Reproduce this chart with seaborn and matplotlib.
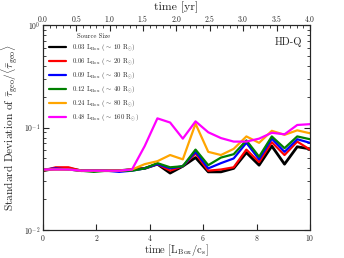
import numpy as np
import pandas as pd
import matplotlib
matplotlib.use("Agg")
import matplotlib.pyplot as plt
import seaborn as sns

# time axis in box sound-crossing units (22 snapshots)
time_box = np.linspace(0, 10, 22)

size_labels = [
    r"0.03 L$_{\rm Box}$ ($\sim$ 10 R$_{\odot}$)",
    r"0.06 L$_{\rm Box}$ ($\sim$ 20 R$_{\odot}$)",
    r"0.09 L$_{\rm Box}$ ($\sim$ 30 R$_{\odot}$)",
    r"0.12 L$_{\rm Box}$ ($\sim$ 40 R$_{\odot}$)",
    r"0.24 L$_{\rm Box}$ ($\sim$ 80 R$_{\odot}$)",
    r"0.48 L$_{\rm Box}$ ($\sim$ 160 R$_{\odot}$)",
]
colors = ["black", "red", "blue", "green", "orange", "magenta"]

sd_003 = [0.038, 0.040, 0.040, 0.038, 0.038, 0.038, 0.038, 0.039, 0.040, 0.044, 0.036,
          0.042, 0.051, 0.037, 0.037, 0.040, 0.057, 0.043, 0.066, 0.044, 0.065, 0.062]
sd_006 = [0.038, 0.041, 0.041, 0.038, 0.038, 0.038, 0.038, 0.039, 0.040, 0.044, 0.038,
          0.042, 0.056, 0.038, 0.039, 0.041, 0.061, 0.046, 0.072, 0.054, 0.073, 0.061]
sd_009 = [0.039, 0.040, 0.039, 0.038, 0.038, 0.038, 0.037, 0.038, 0.040, 0.044, 0.040,
          0.042, 0.058, 0.040, 0.045, 0.050, 0.071, 0.049, 0.078, 0.058, 0.077, 0.071]
sd_012 = [0.039, 0.039, 0.039, 0.038, 0.037, 0.038, 0.038, 0.038, 0.040, 0.045, 0.041,
          0.042, 0.061, 0.043, 0.051, 0.055, 0.075, 0.052, 0.082, 0.063, 0.082, 0.077]
sd_024 = [0.039, 0.039, 0.039, 0.038, 0.038, 0.038, 0.038, 0.039, 0.044, 0.047, 0.054,
          0.049, 0.109, 0.058, 0.054, 0.062, 0.082, 0.071, 0.093, 0.085, 0.094, 0.088]
sd_048 = [0.039, 0.039, 0.039, 0.038, 0.038, 0.038, 0.038, 0.039, 0.066, 0.123, 0.112,
          0.078, 0.115, 0.090, 0.079, 0.073, 0.073, 0.078, 0.089, 0.086, 0.106, 0.108]
series = [sd_003, sd_006, sd_009, sd_012, sd_024, sd_048]

df = pd.concat(
    [pd.DataFrame({"time": time_box, "sd": vals, "size": lab})
     for lab, vals in zip(size_labels, series)],
    ignore_index=True,
)

sns.set_style("ticks")
plt.rcParams["font.family"] = ["cmr10", "DejaVu Serif"]
plt.rcParams["mathtext.fontset"] = "cm"
plt.rcParams["axes.formatter.use_mathtext"] = True

fig = plt.figure(figsize=(3.44, 2.58), dpi=100)
ax = fig.add_axes([0.125, 0.108, 0.776, 0.795])

sns.lineplot(data=df, x="time", y="sd", hue="size", hue_order=size_labels,
             palette=dict(zip(size_labels, colors)), linewidth=1.6, ax=ax)
# black line drawn a bit heavier in the original
ax.lines[0].set_linewidth(2.0)

ax.set_yscale("log")
ax.set_xlim(0, 10)
ax.set_ylim(1e-2, 1)
ax.set_xlabel(r"time [L$_{\rm Box}$/c$_{\rm s}$]", fontsize=7.6, labelpad=-0.3)
ax.set_ylabel(r"Standard Deviation of $\bar{\tau}_{\rm geo}/\langle\bar{\tau}_{\rm geo}\rangle$",
              fontsize=8.2, labelpad=3)
ax.tick_params(which="both", direction="in", labelsize=5.5, top=False, right=True, pad=2)
ax.tick_params(which="major", length=4)
ax.tick_params(which="minor", length=2)
ax.set_xticks([0, 2, 4, 6, 8, 10])

ax.text(0.97, 0.94, "HD-Q", transform=ax.transAxes, ha="right", va="top", fontsize=7.5)

leg = ax.legend(title="Source Size", loc="upper left", frameon=False, fontsize=4.8,
                title_fontsize=4.8, handlelength=2.6, labelspacing=0.45,
                borderaxespad=0.5, bbox_to_anchor=(0.0, 0.99))
leg.get_title().set_fontweight("bold")
for line in leg.get_lines():
    line.set_linewidth(1.6)

ax_top = ax.twiny()
ax_top.set_xlim(0, 4)
ax_top.set_xlabel("time [yr]", fontsize=8.5, labelpad=2)
ax_top.tick_params(direction="in", labelsize=5.5, length=4, pad=1)
ax_top.set_xticks(np.arange(0, 4.01, 0.5))
ax_top.minorticks_on()
ax_top.tick_params(which="minor", direction="in", length=2)

fig.savefig("out.png", dpi=100)
plt.close(fig)
